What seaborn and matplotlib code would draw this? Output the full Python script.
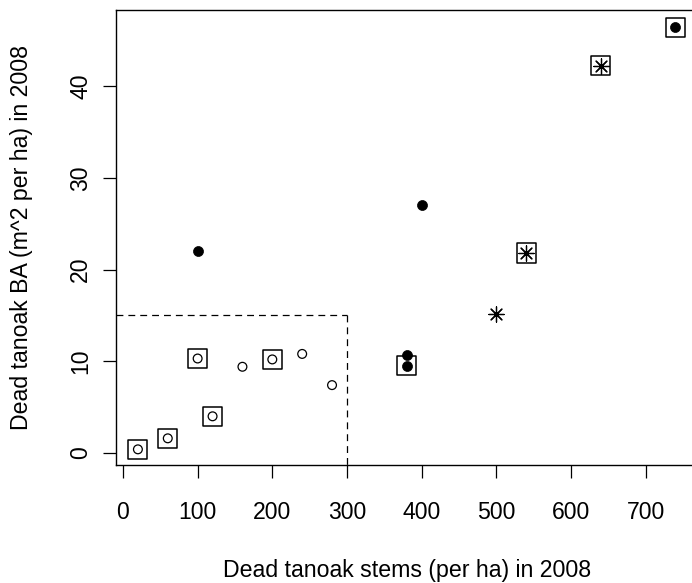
import matplotlib
matplotlib.use("Agg")
import matplotlib.pyplot as plt
import seaborn as sns
import pandas as pd

# ---- data ----
stems = [20, 60, 100, 120, 160, 200, 240, 280,
         100, 380, 380, 400, 740,
         500, 540, 640]
ba = [0.4, 1.6, 10.3, 4.0, 9.4, 10.2, 10.8, 7.4,
      22.0, 10.7, 9.5, 27.0, 46.4,
      15.2, 21.8, 42.2]
group = ["open"] * 8 + ["filled"] * 5 + ["star"] * 3
boxed = [1, 1, 1, 1, 0, 1, 0, 0,
         0, 0, 1, 0, 1,
         0, 1, 1]
x_ticks = [0, 100, 200, 300, 400, 500, 600, 700]
y_ticks = [0, 10, 20, 30, 40]
stem_cut = 300
ba_cut = 15
x_label = "Dead tanoak stems (per ha) in 2008"
y_label = "Dead tanoak BA (m^2 per ha) in 2008"

df = pd.DataFrame({"stems": stems, "ba": ba, "group": group, "boxed": boxed})

sns.set_theme(style="ticks")
plt.rcParams["font.family"] = ["Liberation Sans", "DejaVu Sans"]

fig = plt.figure(figsize=(6.92, 5.83), dpi=100)
W, H = 692, 583
left, right, top, bottom = 116.4, 697.0, 9.5, 465.3
ax = fig.add_axes([left / W, (H - bottom) / H, (right - left) / W, (bottom - top) / H])

xmin, xmax = -8.8, 768.8
ymin, ymax = -1.34, 48.34

# squares around selected plots
sns.scatterplot(data=df[df.boxed == 1], x="stems", y="ba", marker="s", s=190,
                facecolor="none", edgecolor="black", linewidth=1.1, ax=ax, zorder=3)
# open circles
sns.scatterplot(data=df[df.group == "open"], x="stems", y="ba", marker="o", s=40,
                facecolor="none", edgecolor="black", linewidth=0.9, ax=ax, zorder=4)
# filled circles
sns.scatterplot(data=df[df.group == "filled"], x="stems", y="ba", marker="o", s=52,
                color="black", edgecolor="black", linewidth=0.5, ax=ax, zorder=4)
# asterisks
sns.scatterplot(data=df[df.group == "star"], x="stems", y="ba", marker=(8, 2, 0), s=120,
                color="black", linewidth=0.9, ax=ax, zorder=4)

# dashed threshold lines
ax.plot([xmin, stem_cut], [ba_cut, ba_cut], color="black", lw=0.9,
        linestyle=(0, (5.5, 4)), zorder=2)
ax.plot([stem_cut, stem_cut], [ba_cut, ymin], color="black", lw=0.9,
        linestyle=(0, (5.5, 4)), zorder=2)

ax.set_xlim(xmin, xmax)
ax.set_ylim(ymin, ymax)
ax.set_xticks(x_ticks)
ax.set_yticks(y_ticks)
ax.set_xticklabels([str(v) for v in x_ticks])
ax.set_yticklabels([str(v) for v in y_ticks], rotation=90, va="center")

for sp in ax.spines.values():
    sp.set_visible(True)
    sp.set_color("black")
    sp.set_linewidth(1.0)

ax.tick_params(axis="both", direction="out", length=9.5, width=0.9, color="black",
               labelsize=16.6, labelcolor="black")
ax.tick_params(axis="x", pad=16)
ax.tick_params(axis="y", pad=8)

ax.set_xlabel(x_label, fontsize=16.7, color="black")
ax.set_ylabel(y_label, fontsize=16.7, color="black")
ax.xaxis.label.set_va("center")
ax.yaxis.label.set_va("center")
ax.xaxis.set_label_coords((407 - left) / (right - left), (bottom - 570) / (bottom - top))
ax.yaxis.set_label_coords((22 - left) / (right - left), (bottom - 238) / (bottom - top))

fig.savefig("out.png", dpi=100)
